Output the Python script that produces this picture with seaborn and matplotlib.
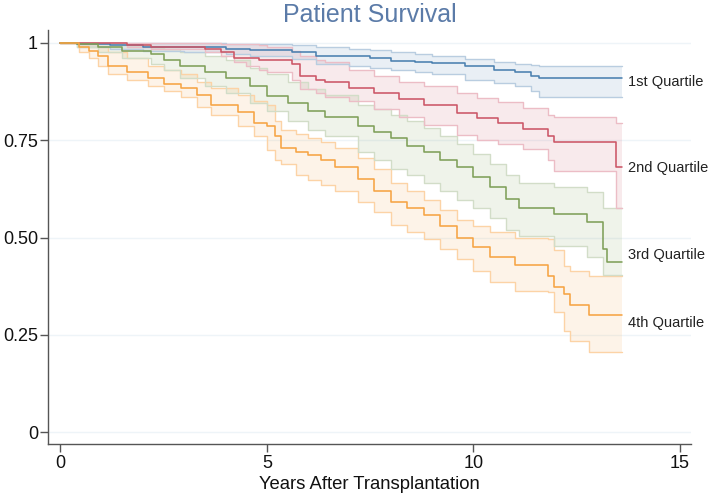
import numpy as np
import pandas as pd
import matplotlib
matplotlib.use("Agg")
import matplotlib.pyplot as plt
import seaborn as sns

# ---------------- data ----------------
groups = ["1st Quartile", "2nd Quartile", "3rd Quartile", "4th Quartile"]

q1_time = [0, 0.4, 1.2, 2.0, 3.0, 4.0, 4.6, 5.6, 6.2, 7.0, 7.5, 8.0, 8.6, 9.0, 9.8, 10.5, 11.0, 11.4, 11.6, 13.6]
q1_surv = [1, .997, .993, .99, .988, .985, .982, .975, .967, .967, .96, .954, .95, .948, .94, .93, .925, .915, .91, .91]
q1_upper = [1, 1, 1, 1, 1, .998, .997, .993, .99, .985, .982, .975, .97, .967, .958, .95, .946, .942, .94, .94]
q1_lower = [1, .99, .985, .98, .975, .97, .966, .958, .945, .94, .935, .93, .925, .92, .905, .897, .89, .875, .86, .86]

q2_time = [0, 1.6, 2.2, 2.5, 3.5, 3.9, 4.2, 4.5, 4.8, 5.0, 5.6, 5.8, 6.2, 6.4, 7.0, 7.6, 8.2, 8.8, 9.6, 10.1,
           10.6, 11.2, 11.8, 11.95, 13.45, 13.6]
q2_surv = [1, .995, .99, .99, .985, .975, .962, .962, .955, .955, .945, .915, .905, .90, .885, .87, .855, .84, .82, .808,
           .795, .778, .76, .746, .68, .68]
q2_upper = [1, 1, 1, 1, 1, .998, .998, .997, .993, .99, .98, .965, .955, .95, .93, .915, .90, .888, .87, .858,
            .848, .833, .815, .81, .795, .795]
q2_lower = [1, .99, .985, .985, .975, .965, .95, .94, .93, .925, .905, .88, .87, .86, .85, .83, .81, .79, .764, .751,
            .74, .726, .70, .67, .577, .577]

q3_time = [0, 0.4, 0.9, 1.5, 2.2, 2.5, 2.9, 3.5, 4.0, 4.6, 5.0, 5.5, 6.0, 6.4, 7.2, 7.6, 8.0, 8.4, 8.8, 9.2,
           9.6, 10.0, 10.4, 10.8, 11.1, 11.95, 12.75, 13.15, 13.25, 13.6]
q3_surv = [1, .997, .99, .98, .97, .955, .94, .925, .91, .89, .862, .845, .825, .81, .785, .77, .755, .735, .72, .70,
           .68, .655, .63, .60, .575, .56, .54, .47, .436, .436]
q3_upper = [1, 1, 1, .995, .99, .985, .975, .965, .955, .935, .92, .90, .88, .865, .84, .83, .815, .80, .78, .76,
            .74, .715, .69, .66, .64, .63, .618, .577, .577, .577]
q3_lower = [1, .99, .975, .96, .945, .93, .91, .89, .87, .845, .825, .80, .775, .76, .72, .70, .675, .66, .64, .62,
            .597, .575, .55, .52, .505, .477, .451, .405, .405, .405]

q4_time = [0, 0.45, 0.7, 0.9, 1.16, 1.6, 2.13, 2.5, 2.92, 3.3, 3.65, 4.3, 4.7, 5.0, 5.2, 5.34, 5.7, 6.0, 6.3, 6.64,
           7.2, 7.6, 8.0, 8.4, 8.8, 9.2, 9.6, 10.0, 10.4, 11.0, 11.8, 11.95, 12.2, 12.35, 12.8, 13.6]
q4_surv = [1, .99, .98, .965, .94, .925, .91, .895, .885, .865, .84, .823, .795, .785, .76, .73, .72, .713, .70, .68,
           .649, .62, .592, .575, .559, .53, .50, .475, .451, .43, .40, .374, .354, .328, .30, .30]
q4_upper = [1, 1, 1, .99, .975, .96, .94, .93, .92, .90, .885, .865, .85, .84, .80, .777, .765, .755, .745, .73,
            .705, .675, .64, .62, .597, .57, .546, .53, .513, .50, .497, .469, .426, .415, .402, .402]
q4_lower = [1, .975, .96, .94, .92, .905, .89, .875, .86, .835, .815, .785, .76, .725, .70, .69, .66, .648, .635, .62,
            .59, .565, .533, .515, .495, .47, .444, .415, .387, .362, .359, .308, .259, .235, .205, .205]

label_y = [0.90, 0.678, 0.455, 0.28]
x_ticks = [0, 5, 10, 15]
y_ticks = [0, 0.25, 0.5, 0.75, 1]
y_tick_labels = ["0", "0.25", "0.50", "0.75", "1"]

# ---------------- styles ----------------
line_colors = ["#4a80b0", "#cc5666", "#7f9f59", "#f6a443"]
edge_colors = ["#b9cde0", "#ecbdc6", "#d2ddc8", "#fcd3a6"]

frames = []
for g, t, s, u, l in zip(groups,
                         [q1_time, q2_time, q3_time, q4_time],
                         [q1_surv, q2_surv, q3_surv, q4_surv],
                         [q1_upper, q2_upper, q3_upper, q4_upper],
                         [q1_lower, q2_lower, q3_lower, q4_lower]):
    frames.append(pd.DataFrame({"series": g, "t": t, "surv": s, "hi": u, "lo": l}))
df = pd.concat(frames, ignore_index=True)

sns.set_theme(style="ticks")
plt.rcParams["font.family"] = ["Liberation Sans", "DejaVu Sans"]

fig = plt.figure(figsize=(7.09, 4.96), dpi=100)
ax = fig.add_axes([0.0684, 0.104, 0.906, 0.835])

# horizontal grid
for yv in y_ticks:
    ax.axhline(yv, color="#eef4f8", lw=1.0, zorder=0)

# confidence bands
for g, c in zip(groups, line_colors):
    sub = df[df["series"] == g]
    ax.fill_between(sub["t"], sub["lo"], sub["hi"], step="post", color=c, alpha=0.12,
                    linewidth=0, zorder=1)

edge_pal = dict(zip(groups, edge_colors))
sns.lineplot(data=df, x="t", y="hi", hue="series", palette=edge_pal, drawstyle="steps-post",
             estimator=None, legend=False, lw=1.0, ax=ax, zorder=2)
sns.lineplot(data=df, x="t", y="lo", hue="series", palette=edge_pal, drawstyle="steps-post",
             estimator=None, legend=False, lw=1.0, ax=ax, zorder=2)

# survival curves
line_pal = dict(zip(groups, line_colors))
sns.lineplot(data=df, x="t", y="surv", hue="series", palette=line_pal, drawstyle="steps-post",
             estimator=None, legend=False, lw=1.15, ax=ax, zorder=3)

# end labels
for g, yv in zip(groups, label_y):
    ax.text(13.75, yv, g, ha="left", va="center", fontsize=10.5, color="#222222")

ax.set_xlim(-0.29, 15.27)
ax.set_ylim(-0.031, 1.032)
ax.set_xticks(x_ticks)
ax.set_yticks(y_ticks)
ax.set_yticklabels(y_tick_labels)
ax.tick_params(axis="both", direction="out", length=5.5, width=1, color="#555555",
               labelsize=13, pad=2, labelcolor="#111111")
ax.set_xlabel("Years After Transplantation", fontsize=13.3, color="#111111", labelpad=3)
ax.set_ylabel("")
ax.set_title("Patient Survival", fontsize=18, color="#5b7ba8", pad=6)

for side in ["top", "right"]:
    ax.spines[side].set_visible(False)
for side in ["left", "bottom"]:
    ax.spines[side].set_color("#555555")
    ax.spines[side].set_linewidth(1.0)

fig.savefig("out.png", dpi=100)
